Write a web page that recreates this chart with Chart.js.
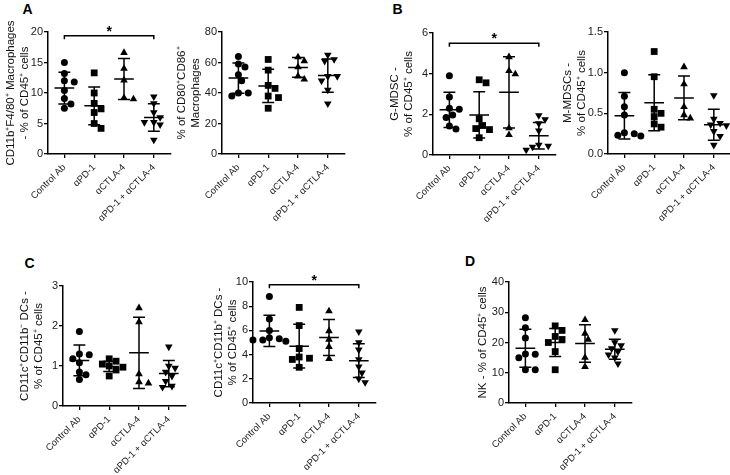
<!DOCTYPE html>
<html><head><meta charset="utf-8">
<script src="https://cdn.jsdelivr.net/npm/chart.js@4.4.1/dist/chart.umd.min.js"></script>
<style>
html,body{margin:0;padding:0;background:#fff;width:730px;height:475px;overflow:hidden;position:relative;font-family:'Liberation Sans',Arial,sans-serif;}
canvas{position:absolute;}
.lbl{position:absolute;font-weight:bold;font-size:14px;line-height:14px;color:#000;font-family:'Liberation Sans',Arial,sans-serif;}
</style></head><body>
<div class="lbl" style="left:22.5px;top:1.5px">A</div>
<div class="lbl" style="left:392.5px;top:1.5px">B</div>
<div class="lbl" style="left:24.5px;top:255.5px">C</div>
<div class="lbl" style="left:465px;top:254px">D</div>
<script>
const categories = ['Control Ab', 'αPD-1', 'αCTLA-4', 'αPD-1 + αCTLA-4'];

// A left: CD11b+F4/80+ macrophages (% of CD45+)
const macroValues = [
  [15.0, 13.2, 12.0, 11.8, 10.4, 9.1, 8.2, 7.5],
  [13.3, 10.0, 8.3, 7.4, 6.8, 5.0, 4.2],
  [16.6, 14.0, 12.1, 9.2, 9.0],
  [9.4, 8.3, 6.8, 6.0, 5.2, 5.2, 4.8, 2.3]
];
const macroMean = [10.8, 7.9, 12.3, 6.0];
const macroSD = [2.6, 3.1, 3.35, 2.25];
const macroTicks = [0, 5, 10, 15, 20];

// A right: % of CD80+CD86+ macrophages
const cd8086Values = [
  [64, 59, 57, 52, 48, 40, 40, 38],
  [62, 55, 45, 43, 38, 37, 30],
  [63.5, 61, 57, 51, 49],
  [65, 62, 61, 51, 51, 48, 42, 33]
];
const cd8086Mean = [49.8, 44.6, 56.8, 51.4];
const cd8086SD = [9.9, 10.9, 6.4, 10.9];
const cd8086Ticks = [0, 20, 40, 60, 80];

// B left: G-MDSC
const gmdscValues = [
  [3.9, 2.85, 2.3, 2.25, 1.97, 1.84, 1.43, 1.28],
  [3.7, 3.55, 1.78, 1.45, 1.3, 1.25, 0.85],
  [4.82, 4.14, 3.98, 1.32, 0.99],
  [1.95, 1.75, 1.55, 1.2, 0.5, 0.45, 0.4, 0.25]
];
const gmdscMean = [2.22, 1.97, 3.08, 0.95];
const gmdscSD = [0.87, 1.14, 1.75, 0.65];
const gmdscTicks = [0, 2, 4, 6];

// B right: M-MDSCs
const mmdscValues = [
  [1.0, 0.71, 0.58, 0.48, 0.26, 0.25, 0.23, 0.22],
  [1.26, 0.95, 0.55, 0.5, 0.46, 0.37, 0.33],
  [1.07, 0.86, 0.58, 0.48, 0.44],
  [0.72, 0.43, 0.38, 0.36, 0.35, 0.28, 0.22, 0.11]
];
const mmdscMean = [0.47, 0.63, 0.69, 0.36];
const mmdscSD = [0.285, 0.345, 0.27, 0.19];
const mmdscTicks = [0.0, 0.5, 1.0, 1.5];

// C left: CD11c+CD11b- DCs
const dcNegValues = [
  [1.86, 1.3, 1.28, 1.18, 1.08, 0.85, 0.78, 0.66],
  [1.18, 1.12, 1.05, 1.0, 0.97, 0.9, 0.75],
  [2.45, 2.1, 0.8, 0.6, 0.57],
  [1.48, 1.0, 0.95, 0.85, 0.75, 0.62, 0.5, 0.47]
];
const dcNegMean = [1.14, 0.99, 1.33, 0.81];
const dcNegSD = [0.385, 0.13, 0.89, 0.33];
const dcNegTicks = [0, 1, 2, 3];

// C right: CD11c+CD11b+ DCs
const dcPosValues = [
  [8.8, 6.95, 6.0, 5.4, 5.3, 5.2, 5.2, 5.1],
  [7.9, 6.4, 4.5, 3.8, 3.7, 3.6, 2.95],
  [7.6, 5.95, 5.25, 4.65, 3.65],
  [5.9, 5.0, 4.4, 3.6, 3.0, 2.5, 2.0, 1.7]
];
const dcPosMean = [5.96, 4.7, 5.42, 3.5];
const dcPosSD = [1.3, 1.8, 1.49, 1.4];
const dcPosTicks = [0, 2, 4, 6, 8, 10];

// D: NK
const nkValues = [
  [28.2, 24.9, 21.5, 16.2, 16.1, 15.0, 11.0, 11.0],
  [25.5, 24, 22, 21, 20, 17, 11],
  [27.5, 23, 21, 15, 12],
  [24, 20, 19, 18, 17, 16, 15, 13]
];
const nkMean = [18.1, 20.0, 19.7, 17.8];
const nkSD = [6.3, 4.6, 6.2, 3.3];
const nkTicks = [0, 10, 20, 30, 40];

// significance brackets: [from category, to category, height in data units]
const macroBracket = [1, 4, 19.4];
const gmdscBracket = [1, 4, 5.5];
const dcPosBracket = [1, 4, 9.78];

const FONT = "'Liberation Sans', Arial, sans-serif";

const panels = [
  {values: macroValues, mean: macroMean, sd: macroSD, ticks: macroTicks, dec: 0, bracket: macroBracket,
   title: ['CD11b⁺F4/80⁺ Macrophages', '- % of CD45⁺ cells'], axisX: 48, top: 32, bottom: 154, t1: 11},
  {values: cd8086Values, mean: cd8086Mean, sd: cd8086SD, ticks: cd8086Ticks, dec: 0, bracket: null,
   title: ['% of CD80⁺CD86⁺', 'Macrophages'], axisX: 222, top: 32, bottom: 154, t1: 182},
  {values: gmdscValues, mean: gmdscMean, sd: gmdscSD, ticks: gmdscTicks, dec: 0, bracket: gmdscBracket,
   title: ['G-MDSC -', '% of CD45⁺ cells'], axisX: 433, top: 33, bottom: 155, t1: 395},
  {values: mmdscValues, mean: mmdscMean, sd: mmdscSD, ticks: mmdscTicks, dec: 1, bracket: null,
   title: ['M-MDSCs -', '% of CD45⁺ cells'], axisX: 608, top: 32, bottom: 154, t1: 568},
  {values: dcNegValues, mean: dcNegMean, sd: dcNegSD, ticks: dcNegTicks, dec: 0, bracket: null,
   title: ['CD11c⁺CD11b⁻ DCs -', '% of CD45⁺ cells'], axisX: 63, top: 286, bottom: 406, t1: 25},
  {values: dcPosValues, mean: dcPosMean, sd: dcPosSD, ticks: dcPosTicks, dec: 0, bracket: dcPosBracket,
   title: ['CD11c⁺CD11b⁺ DCs -', '% of CD45⁺ cells'], axisX: 253, top: 282, bottom: 403, t1: 219},
  {values: nkValues, mean: nkMean, sd: nkSD, ticks: nkTicks, dec: 0, bracket: null,
   title: 'NK - % of CD45⁺ cells', axisX: 509, top: 282, bottom: 403, t1: 483}
];

const markerStyles = [
  {pointStyle: 'circle', radius: 3.5, rotation: 0},
  {pointStyle: 'rect', radius: 4.8, rotation: 0},
  {pointStyle: 'triangle', radius: 4.4, rotation: 0},
  {pointStyle: 'triangle', radius: 4.4, rotation: 180}
];

const X_MIN = 0.45, X_MAX = 4.55, UNIT_PX = 30, PAD_TOP = 22, X_H = 85, PAD_R = 4;

function swarmOffsets(values, yMax, plotH, r) {
  const order = values.map((v, i) => i).sort((a, b) => values[b] - values[a]);
  const placed = [];
  const offs = values.map(() => 0);
  order.forEach(i => {
    const py = values[i] / yMax * plotH;
    let px = 0;
    for (let k = 0; k < 60; k++) {
      const c = k === 0 ? 0 : (k % 2 ? 1 : -1) * Math.ceil(k / 2) * r * 0.9;
      if (placed.every(p => Math.hypot(p.x - c, p.y - py) >= 1.85 * r)) { px = c; break; }
    }
    placed.push({x: px, y: py});
    offs[i] = px / UNIT_PX;
  });
  return offs;
}

const statsPlugin = {
  id: 'stats',
  afterDatasetsDraw(chart) {
    const p = chart.options.plugins.stats;
    const {ctx} = chart;
    const x = chart.scales.x, y = chart.scales.y;
    ctx.save();
    ctx.strokeStyle = '#000';
    ctx.lineWidth = 1.5;
    p.mean.forEach((m, i) => {
      const c = i + 1;
      const cx = x.getPixelForValue(c);
      const ml = x.getPixelForValue(c - 0.33), mr = x.getPixelForValue(c + 0.33);
      const cl = x.getPixelForValue(c - 0.2), cr = x.getPixelForValue(c + 0.2);
      const ym = y.getPixelForValue(m);
      const yt = y.getPixelForValue(m + p.sd[i]);
      const yb = y.getPixelForValue(m - p.sd[i]);
      ctx.beginPath();
      ctx.moveTo(ml, ym); ctx.lineTo(mr, ym);
      ctx.moveTo(cx, yt); ctx.lineTo(cx, yb);
      ctx.moveTo(cl, yt); ctx.lineTo(cr, yt);
      ctx.moveTo(cl, yb); ctx.lineTo(cr, yb);
      ctx.stroke();
    });
    if (p.bracket) {
      const [a, b, h] = p.bracket;
      const xa = x.getPixelForValue(a), xb = x.getPixelForValue(b), yh = y.getPixelForValue(h);
      ctx.beginPath();
      ctx.moveTo(xa, yh + 3.5); ctx.lineTo(xa, yh); ctx.lineTo(xb, yh); ctx.lineTo(xb, yh + 3.5);
      ctx.stroke();
      ctx.fillStyle = '#000';
      ctx.font = 'bold 14px ' + FONT;
      ctx.textAlign = 'center';
      ctx.textBaseline = 'middle';
      ctx.fillText('*', (xa + xb) / 2, yh - 4);
    }
    ctx.restore();
  }
};

panels.forEach(pn => {
  const yW = pn.axisX - (pn.t1 - 7);
  const plotH = pn.bottom - pn.top;
  const plotW = (X_MAX - X_MIN) * UNIT_PX;
  const cv = document.createElement('canvas');
  const w = Math.round(yW + plotW + PAD_R), h = PAD_TOP + plotH + X_H;
  cv.width = w; cv.height = h;
  cv.style.left = (pn.t1 - 7) + 'px';
  cv.style.top = (pn.top - PAD_TOP) + 'px';
  cv.style.width = w + 'px'; cv.style.height = h + 'px';
  document.body.appendChild(cv);
  const yMin = pn.ticks[0], yMax = pn.ticks[pn.ticks.length - 1];
  const gridOpts = {display: true, drawOnChartArea: false, drawTicks: true, tickLength: 4, color: '#000', lineWidth: 1.3};
  const borderOpts = {display: true, color: '#000', width: 1.5};
  new Chart(cv, {
    type: 'scatter',
    data: {
      datasets: pn.values.map((vals, ci) => {
        const offs = swarmOffsets(vals, yMax, plotH, markerStyles[ci].radius * (ci === 0 ? 1.05 : 0.8));
        return {
          data: vals.map((v, j) => ({x: ci + 1 + offs[j], y: v})),
          pointStyle: markerStyles[ci].pointStyle,
          pointRadius: markerStyles[ci].radius,
          pointRotation: markerStyles[ci].rotation,
          pointBackgroundColor: '#000',
          pointBorderColor: '#000',
          pointBorderWidth: 0,
          showLine: false,
          clip: false
        };
      })
    },
    options: {
      responsive: false, animation: false, devicePixelRatio: 1, events: [],
      layout: {padding: {top: PAD_TOP, right: PAD_R, left: 0, bottom: 0}},
      plugins: {legend: {display: false}, tooltip: {enabled: false},
        stats: {mean: pn.mean, sd: pn.sd, bracket: pn.bracket}},
      scales: {
        x: {
          type: 'linear', min: X_MIN, max: X_MAX,
          afterBuildTicks: s => { s.ticks = categories.map((c, i) => ({value: i + 1})); },
          afterFit: s => { s.height = X_H; },
          ticks: {autoSkip: false, minRotation: 45, maxRotation: 45, padding: 4, color: '#222',
            font: {family: FONT, size: 9.5}, callback: v => categories[v - 1]},
          grid: gridOpts, border: borderOpts
        },
        y: {
          min: yMin, max: yMax,
          afterBuildTicks: s => { s.ticks = pn.ticks.map(v => ({value: v})); },
          afterFit: s => { s.width = yW; },
          ticks: {padding: 1, color: '#222', font: {family: FONT, size: 11},
            callback: v => pn.dec ? Number(v).toFixed(pn.dec) : String(v)},
          grid: gridOpts, border: borderOpts,
          title: {display: true, text: pn.title, padding: 0, color: '#111', font: {family: FONT, size: 11.5}}
        }
      }
    },
    plugins: [statsPlugin]
  });
});
</script>
</body></html>
